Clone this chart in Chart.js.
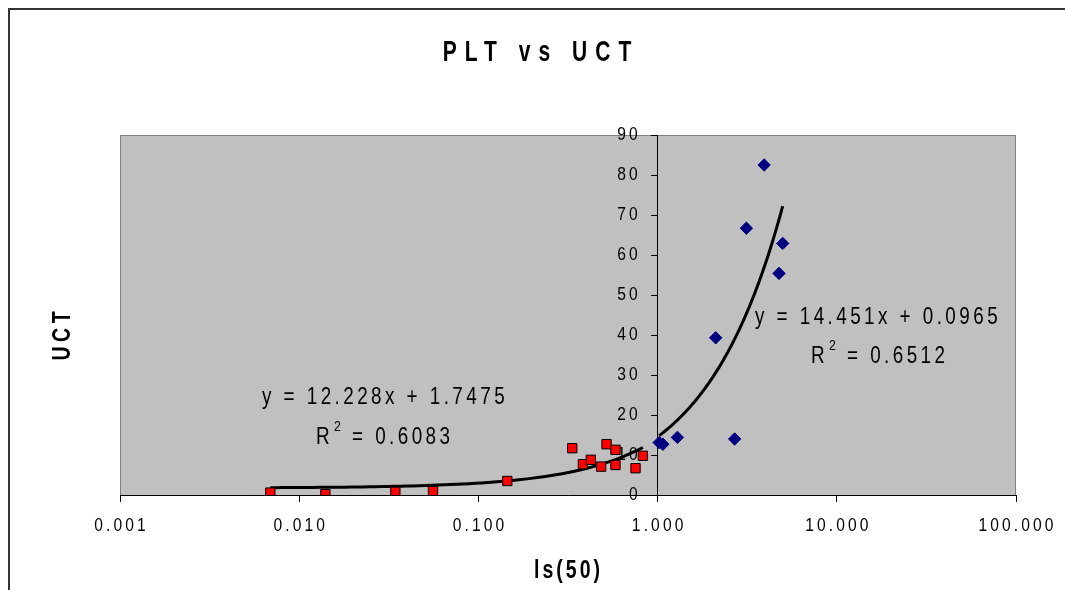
<!DOCTYPE html>
<html lang="en">
  <head>
    <meta charset="utf-8" />
    <title>PLT vs UCT</title>
    <style>
      body { margin: 0; background: #fff; }
      #wrap { width: 1065px; height: 590px; }
    </style>
  </head>
  <body>
    <div id="wrap">
      <canvas id="plt-chart" width="1065" height="590"></canvas>
    </div>

    <script src="https://cdn.jsdelivr.net/npm/chart.js@4.4.0/dist/chart.umd.min.js"></script>
    <script>
      // data
      const redX = [0.0069, 0.0140, 0.0344, 0.0558, 0.145, 0.334, 0.383, 0.424, 0.484, 0.519, 0.582, 0.582, 0.753, 0.828];
      const redY = [0.6, 0.2, 0.8, 1.0, 3.5, 11.7, 7.7, 8.8, 7.1, 12.7, 11.3, 7.5, 6.7, 9.8];

      const blueX = [1.02, 1.07, 1.29, 2.11, 2.69, 3.13, 3.93, 4.76, 4.99];
      const blueY = [13.1, 12.7, 14.4, 39.3, 14.0, 66.7, 82.5, 55.4, 62.9];

      // trendline coefficients as printed on the chart [slope, intercept]
      const redFit = [12.228, 1.7475];
      const blueFit = [14.451, 0.0965];

      const xTickValues = [0.001, 0.01, 0.1, 1, 10, 100];
      const xTickLabels = ["0.001", "0.010", "0.100", "1.000", "10.000", "100.000"];
      const yTickValues = [0, 10, 20, 30, 40, 50, 60, 70, 80, 90];

      // Arial-metric font squeezed sideways to look like Arial Narrow
      const FONT = "'Liberation Sans', Arial, sans-serif";
      const SQ = 0.82;

      const toPoints = (xs, ys) => xs.map((x, i) => ({ x: x, y: ys[i] }));

      // linear trendline y = a*x + b over the series' x range (curved on a log axis)
      const trendPoints = (xs, fit) => {
        const lo = Math.log10(Math.min(...xs));
        const hi = Math.log10(Math.max(...xs));
        const pts = [];
        const n = 60;
        for (let i = 0; i <= n; i++) {
          const x = Math.pow(10, lo + (hi - lo) * i / n);
          pts.push({ x: x, y: fit[0] * x + fit[1] });
        }
        return pts;
      };

      function drawText(ctx, s, x, y, font, spacing, align, sx) {
        ctx.save();
        ctx.font = font;
        ctx.letterSpacing = spacing + "px";
        ctx.textAlign = "left";
        ctx.textBaseline = "middle";
        ctx.fillStyle = "#000";
        const w = ctx.measureText(s).width - spacing;
        ctx.translate(x, y);
        ctx.scale(sx, 1);
        let x0 = 0;
        if (align === "center") x0 = -w / 2;
        if (align === "right") x0 = -w;
        ctx.fillText(s, x0, 0);
        ctx.restore();
        return w * sx;
      }

      function drawR2(ctx, value, left, y) {
        const f = "23px " + FONT;
        drawText(ctx, "R", left, y, f, 0, "left", SQ);
        drawText(ctx, "2", left + 18, y - 11, "15px " + FONT, 0, "left", SQ);
        drawText(ctx, "= " + value, left + 36, y, f, 4.2, "left", SQ);
      }

      const backdrop = {
        id: "backdrop",
        beforeDraw(chart) {
          const { ctx, chartArea: a } = chart;
          ctx.save();
          ctx.fillStyle = "#fff";
          ctx.fillRect(0, 0, chart.width, chart.height);
          // outer frame (only top and left are in view)
          ctx.strokeStyle = "#333";
          ctx.lineWidth = 2;
          ctx.beginPath();
          ctx.moveTo(9, chart.height);
          ctx.lineTo(9, 9);
          ctx.lineTo(chart.width, 9);
          ctx.stroke();
          // plot area
          ctx.fillStyle = "#c0c0c0";
          ctx.fillRect(a.left, a.top, a.right - a.left, a.bottom - a.top);
          ctx.strokeStyle = "#808080";
          ctx.lineWidth = 1;
          ctx.strokeRect(a.left + 0.5, a.top + 0.5, a.right - a.left - 1, a.bottom - a.top);
          ctx.restore();
        },
        beforeDatasetsDraw(chart) {
          const { ctx, scales } = chart;
          const ax = scales.x.getPixelForValue(1);
          yTickValues.forEach((v) => {
            drawText(ctx, String(v), ax - 20, scales.y.getPixelForValue(v), "19px " + FONT, 3.8, "right", SQ);
          });
          xTickValues.forEach((v, i) => {
            drawText(ctx, xTickLabels[i], scales.x.getPixelForValue(v), 526, "19px " + FONT, 3.8, "center", SQ);
          });
        },
        afterDraw(chart) {
          const ctx = chart.ctx;
          drawText(ctx, "PLT vs UCT", 537, 53, "bold 30px " + FONT, 11.5, "center", 0.7);
          drawText(ctx, "ls(50)", 567, 571, "bold 26px " + FONT, 4, "center", 0.75);
          ctx.save();
          ctx.translate(63, 336);
          ctx.rotate(-Math.PI / 2);
          drawText(ctx, "UCT", 0, 0, "bold 26px " + FONT, 6, "center", 0.75);
          ctx.restore();

          drawText(ctx, "y = 12.228x + 1.7475", 262, 398, "23px " + FONT, 4.2, "left", SQ);
          drawR2(ctx, "0.6083", 316, 438);
          drawText(ctx, "y = 14.451x + 0.0965", 755, 318, "23px " + FONT, 4.2, "left", SQ);
          drawR2(ctx, "0.6512", 811, 357);
        },
      };

      new Chart(document.getElementById("plt-chart"), {
        type: "scatter",
        data: {
          datasets: [
            {
              label: "red",
              data: toPoints(redX, redY),
              pointStyle: "rect",
              pointRadius: 6.6,
              backgroundColor: "#ff0000",
              borderColor: "#000",
              borderWidth: 1,
              order: 1,
            },
            {
              label: "blue",
              data: toPoints(blueX, blueY),
              pointStyle: "rectRot",
              pointRadius: 6.2,
              backgroundColor: "#000080",
              borderColor: "#000080",
              borderWidth: 1,
              order: 1,
            },
            {
              label: "red trend",
              data: trendPoints(redX, redFit),
              showLine: true,
              pointRadius: 0,
              borderColor: "#000",
              borderWidth: 3,
              order: 2,
            },
            {
              label: "blue trend",
              data: trendPoints(blueX, blueFit),
              showLine: true,
              pointRadius: 0,
              borderColor: "#000",
              borderWidth: 3,
              order: 2,
            },
          ],
        },
        options: {
          responsive: false,
          animation: false,
          layout: { padding: { left: 120, right: 49, top: 135, bottom: 0 } },
          plugins: {
            legend: { display: false },
            title: { display: false },
            tooltip: { enabled: false },
          },
          scales: {
            x: {
              type: "logarithmic",
              min: 0.001,
              max: 100,
              position: "bottom",
              afterBuildTicks: (s) => { s.ticks = xTickValues.map((v) => ({ value: v })); },
              afterFit: (s) => { s.height = 95; },
              border: { color: "#000", width: 1 },
              grid: { drawOnChartArea: false, drawTicks: true, tickLength: 7, color: "#000" },
              ticks: { display: false },
            },
            y: {
              type: "linear",
              min: 0,
              max: 90,
              position: { x: 1 },
              afterBuildTicks: (s) => { s.ticks = yTickValues.map((v) => ({ value: v })); },
              border: { color: "#000", width: 1 },
              grid: { drawOnChartArea: false, drawTicks: true, tickLength: 6, color: "#000" },
              ticks: { display: false },
            },
          },
        },
        plugins: [backdrop],
      });
    </script>
  </body>
</html>
